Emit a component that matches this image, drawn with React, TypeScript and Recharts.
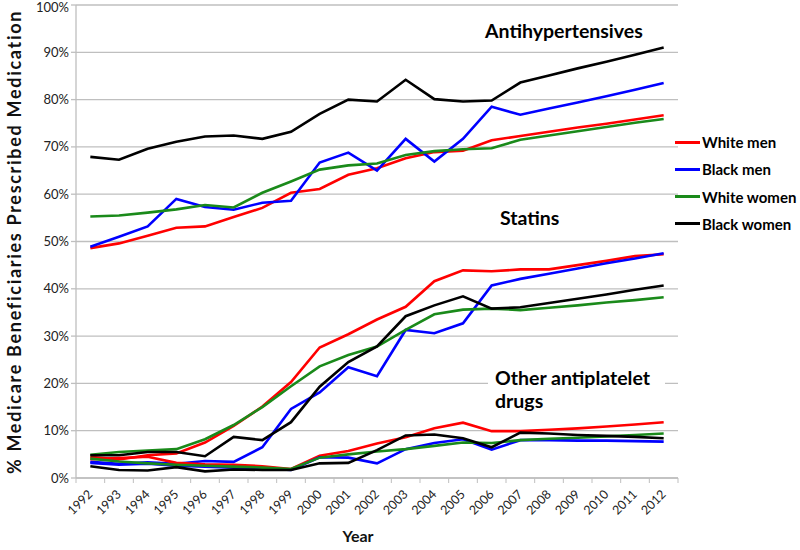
import { LineChart, Line, XAxis, YAxis, CartesianGrid } from 'recharts'

const years = [
  1992, 1993, 1994, 1995, 1996, 1997, 1998, 1999, 2000, 2001, 2002,
  2003, 2004, 2005, 2006, 2007, 2008, 2009, 2010, 2011, 2012,
]

// Antihypertensives
const antiWhiteMen = [48.6, 49.6, 51.2, 52.9, 53.2, 55.2, 57.1, 60.3, 61.1, 64.1, 65.5, 67.6, 68.9, 69.2, 71.4, 72.3, 73.2, 74.1, 74.9, 75.8, 76.7]
const antiBlackMen = [48.9, 51.0, 53.2, 59.0, 57.3, 56.7, 58.2, 58.6, 66.7, 68.8, 65.0, 71.7, 66.9, 71.7, 78.5, 76.8, 78.1, 79.4, 80.7, 82.1, 83.5]
const antiWhiteWomen = [55.3, 55.5, 56.1, 56.8, 57.7, 57.2, 60.3, 62.7, 65.2, 66.1, 66.5, 68.3, 69.1, 69.5, 69.7, 71.5, 72.4, 73.3, 74.2, 75.1, 75.9]
const antiBlackWomen = [67.9, 67.3, 69.6, 71.1, 72.2, 72.4, 71.7, 73.2, 77.0, 80.0, 79.6, 84.2, 80.1, 79.6, 79.8, 83.6, 85.1, 86.6, 88.0, 89.5, 91.0]

// Statins
const statWhiteMen = [4.5, 3.9, 4.8, 5.2, 7.5, 11.0, 15.1, 20.3, 27.6, 30.4, 33.5, 36.2, 41.6, 43.9, 43.7, 44.1, 44.1, 45.0, 45.9, 46.9, 47.3]
const statBlackMen = [3.4, 3.0, 3.3, 3.0, 3.6, 3.4, 6.5, 14.6, 18.1, 23.4, 21.5, 31.3, 30.6, 32.7, 40.7, 42.1, 43.2, 44.3, 45.4, 46.4, 47.5]
const statWhiteWomen = [4.9, 5.5, 5.8, 6.1, 8.2, 11.2, 15.0, 19.4, 23.6, 26.0, 27.8, 31.3, 34.6, 35.6, 35.8, 35.5, 36.0, 36.5, 37.1, 37.6, 38.2]
const statBlackWomen = [4.8, 4.8, 5.5, 5.5, 4.6, 8.7, 8.0, 11.8, 19.3, 24.5, 27.8, 34.2, 36.5, 38.4, 35.8, 36.1, 37.0, 37.9, 38.8, 39.8, 40.7]

// Other antiplatelet drugs
const apWhiteMen = [4.0, 4.2, 4.5, 3.2, 2.9, 2.8, 2.5, 1.9, 4.7, 5.7, 7.3, 8.6, 10.5, 11.7, 9.9, 9.9, 10.2, 10.5, 10.9, 11.3, 11.8]
const apBlackMen = [3.2, 2.8, 3.0, 2.6, 2.4, 2.2, 2.0, 1.7, 4.4, 4.3, 3.1, 6.1, 7.4, 8.2, 6.0, 8.0, 8.0, 7.9, 7.9, 7.8, 7.7]
const apWhiteWomen = [4.1, 3.5, 3.1, 2.8, 2.6, 2.4, 2.2, 1.9, 4.3, 5.0, 5.6, 6.1, 6.8, 7.5, 7.4, 8.0, 8.3, 8.5, 8.8, 9.1, 9.4]
const apBlackWomen = [2.5, 1.7, 1.6, 2.3, 1.4, 1.8, 1.7, 1.7, 3.1, 3.2, 5.9, 9.0, 9.2, 8.4, 6.5, 9.6, 9.4, 9.1, 8.9, 8.7, 8.4]

const yTicks = [0, 10, 20, 30, 40, 50, 60, 70, 80, 90, 100]

const groups = ['White men', 'Black men', 'White women', 'Black women']
const GROUP_COLORS = ['#ff0000', '#0000ff', '#1a8a1a', '#000000']

const classes = [
  { key: 'anti', series: [antiWhiteMen, antiBlackMen, antiWhiteWomen, antiBlackWomen] },
  { key: 'stat', series: [statWhiteMen, statBlackMen, statWhiteWomen, statBlackWomen] },
  { key: 'ap', series: [apWhiteMen, apBlackMen, apWhiteWomen, apBlackWomen] },
]

const data = years.map((year, i) => {
  const row: Record<string, number | string> = { year: String(year) }
  classes.forEach((c) => {
    c.series.forEach((s, g) => {
      row[`${c.key}${g}`] = s[i]
    })
  })
  return row
})

const FONT = 'Lato, "Open Sans", sans-serif'
const GRID = '#bfbfbf'
const HALF_BAND = 14.33

function YearTick(props: any) {
  const { x, y, payload, index } = props
  const last = index === years.length - 1
  return (
    <g>
      <line x1={x - HALF_BAND} x2={x - HALF_BAND} y1={y - 8} y2={y - 3} stroke={GRID} />
      {last && <line x1={x + HALF_BAND} x2={x + HALF_BAND} y1={y - 8} y2={y - 3} stroke={GRID} />}
      <text
        x={x + 3}
        y={y + 9}
        transform={`rotate(-45, ${x + 3}, ${y + 9})`}
        textAnchor="end"
        fontSize={12.5}
        fontFamily={FONT}
        fill="#222"
      >
        {payload.value}
      </text>
    </g>
  )
}

function PercentTick(props: any) {
  const { x, y, payload } = props
  const dy = payload.value === 100 ? 7 : 4.5
  return (
    <text x={x} y={y + dy} textAnchor="end" fontSize={13} fontFamily={FONT} fill="#222">
      {`${payload.value}%`}
    </text>
  )
}

export default function App() {
  return (
    <div style={{ position: 'relative', width: 800, height: 550, background: '#fff', fontFamily: FONT }}>
      <style>{'body{margin:0}'}</style>
      <LineChart width={800} height={550} data={data} margin={{ top: 5, right: 122, left: 0, bottom: 0 }}>
        <CartesianGrid horizontal vertical={false} stroke={GRID} strokeWidth={1.3} />
        <XAxis
          dataKey="year"
          height={72}
          stroke={GRID}
          strokeWidth={1.3}
          tickLine={false}
          interval={0}
          padding={{ left: HALF_BAND, right: HALF_BAND }}
          tick={<YearTick />}
        />
        <YAxis
          width={76}
          domain={[0, 100]}
          ticks={yTicks}
          interval={0}
          stroke={GRID}
          strokeWidth={1.3}
          tickSize={5}
          tick={<PercentTick />}
        />
        {classes.map((c) =>
          c.series.map((_, g) => (
            <Line
              key={`${c.key}${g}`}
              dataKey={`${c.key}${g}`}
              stroke={GROUP_COLORS[g]}
              strokeWidth={2.6}
              dot={false}
              type="linear"
              isAnimationActive={false}
            />
          ))
        )}
      </LineChart>

      {/* axis titles */}
      <div
        style={{
          position: 'absolute', left: 14, top: 242, transform: 'translate(-50%, -50%) rotate(-90deg)',
          whiteSpace: 'nowrap', fontWeight: 700, fontSize: 18, letterSpacing: 1.7, color: '#111',
        }}
      >
        % Medicare Beneficiaries Prescribed Medication
      </div>
      <div style={{ position: 'absolute', left: 358, top: 535, transform: 'translate(-50%, -50%)', fontWeight: 700, fontSize: 16, color: '#111' }}>
        Year
      </div>

      {/* annotations */}
      <div style={{ position: 'absolute', left: 485, top: 30, transform: 'translateY(-50%)', fontWeight: 700, fontSize: 19.5, color: '#000', whiteSpace: 'nowrap' }}>
        Antihypertensives
      </div>
      <div style={{ position: 'absolute', left: 500, top: 217, transform: 'translateY(-50%)', fontWeight: 700, fontSize: 19.5, color: '#000', whiteSpace: 'nowrap' }}>
        Statins
      </div>
      <div
        style={{
          position: 'absolute', left: 488, top: 366, width: 177, height: 50, background: '#fff',
          paddingLeft: 7, boxSizing: 'border-box', fontWeight: 700, fontSize: 19.5, lineHeight: '23px', color: '#000',
          whiteSpace: 'nowrap',
        }}
      >
        Other antiplatelet
        <br />
        drugs
      </div>

      {/* legend */}
      {groups.map((name, g) => (
        <div key={name} style={{ position: 'absolute', left: 675, top: 142 + g * 27.3, transform: 'translateY(-50%)', display: 'flex', alignItems: 'center' }}>
          <div style={{ width: 25, height: 3, background: GROUP_COLORS[g], marginRight: 2 }} />
          <span style={{ fontWeight: 700, fontSize: 15, color: '#000', whiteSpace: 'nowrap' }}>{name}</span>
        </div>
      ))}
    </div>
  )
}
